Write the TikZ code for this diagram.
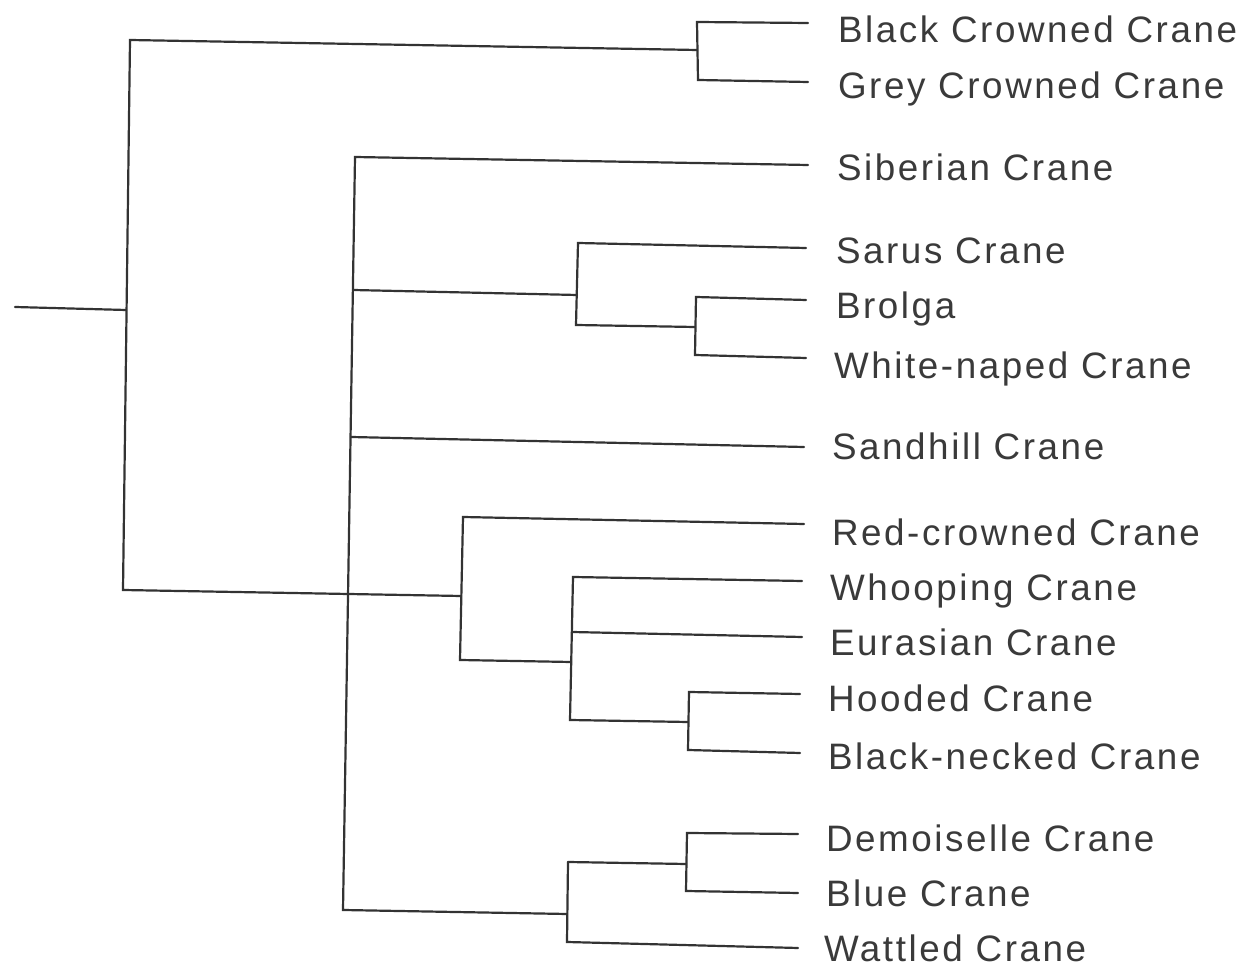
\documentclass[tikz,border=0pt]{standalone}
\usepackage{fontspec}
\newfontfamily\labfont[LetterSpace=7]{Liberation Sans}
\definecolor{inkline}{HTML}{333333}
\definecolor{inktext}{HTML}{3A3A3A}
\begin{document}
\begin{tikzpicture}[x=0.5pt,y=-0.5pt,
  branch/.style={draw=inkline,line width=1.1pt,line cap=round,line join=miter},
  lab/.style={anchor=base west,inner sep=0pt,outer sep=0pt,text=inktext,font=\labfont\fontsize{18.4}{22}\selectfont}]
\useasboundingbox (0,0) rectangle (1250,972);
% ---- coordinates ----
\coordinate (stub) at (15,307);
\coordinate (rmid) at (126,310);
\coordinate (rtop) at (130,40);
\coordinate (rbot) at (123,590);
% crowned cranes
\coordinate (cr) at (697,50);
\coordinate (crt) at (697,22);
\coordinate (crb) at (698,80);
\coordinate (eBlack) at (808,23);
\coordinate (eGrey) at (808,82);
% main polytomy
\coordinate (pt) at (355,157);
\coordinate (pb) at (343,910);
\coordinate (pSarus) at (353,290);
\coordinate (pSand) at (351,437);
\coordinate (eSib) at (808,165);
\coordinate (eSand) at (804,447);
% sarus clade
\coordinate (sa) at (577,295);
\coordinate (sat) at (578,243);
\coordinate (sab) at (576,325);
\coordinate (eSarus) at (806,248);
\coordinate (br) at (695,327);
\coordinate (brt) at (696,297);
\coordinate (brb) at (695,355);
\coordinate (eBrolga) at (806,300);
\coordinate (eWhite) at (806,358);
% red-crowned clade
\coordinate (rc) at (461,596);
\coordinate (rct) at (463,517);
\coordinate (rcb) at (460,660);
\coordinate (eRed) at (804,524);
\coordinate (wh) at (571,662);
\coordinate (wht) at (573,577);
\coordinate (whm) at (572,632);
\coordinate (whb) at (570,720);
\coordinate (eWhoop) at (802,581);
\coordinate (eEur) at (802,637);
\coordinate (ho) at (688,722);
\coordinate (hot) at (689,692);
\coordinate (hob) at (688,750);
\coordinate (eHood) at (800,694);
\coordinate (eBN) at (800,753);
% bottom clade
\coordinate (de) at (567,914);
\coordinate (det) at (568,862);
\coordinate (deb) at (567,942);
\coordinate (dm) at (686,864);
\coordinate (dmt) at (687,833);
\coordinate (dmb) at (686,891);
\coordinate (eDem) at (798,834);
\coordinate (eBlue) at (798,893);
\coordinate (eWat) at (798,948);
% ---- branches ----
\draw[branch] (stub) -- (rmid);
\draw[branch] (cr) -- (rtop) -- (rbot) -- (rc);
\draw[branch] (eBlack) -- (crt) -- (crb) -- (eGrey);
\draw[branch] (eSib) -- (pt) -- (pb) -- (de);
\draw[branch] (pSarus) -- (sa);
\draw[branch] (pSand) -- (eSand);
\draw[branch] (eSarus) -- (sat) -- (sab) -- (br);
\draw[branch] (eBrolga) -- (brt) -- (brb) -- (eWhite);
\draw[branch] (eRed) -- (rct) -- (rcb) -- (wh);
\draw[branch] (eWhoop) -- (wht) -- (whb) -- (ho);
\draw[branch] (whm) -- (eEur);
\draw[branch] (eHood) -- (hot) -- (hob) -- (eBN);
\draw[branch] (det) -- (dm);
\draw[branch] (eDem) -- (dmt) -- (dmb) -- (eBlue);
\draw[branch] (det) -- (deb) -- (eWat);
% ---- labels ----
\node[lab] (tBlack) at (838,43) {Black Crowned Crane};
\node[lab] (tGrey) at (838,99) {Grey Crowned Crane};
\node[lab] (tSib) at (837,181) {Siberian Crane};
\node[lab] (tSarus) at (836,264) {Sarus Crane};
\node[lab] (tBrolga) at (836,319) {Brolga};
\node[lab] (tWhite) at (834,379) {White-naped Crane};
\node[lab] (tSand) at (832,460) {Sandhill Crane};
\node[lab] (tRed) at (832,546) {Red-crowned Crane};
\node[lab] (tWhoop) at (830,601) {Whooping Crane};
\node[lab] (tEur) at (830,656) {Eurasian Crane};
\node[lab] (tHood) at (828,712) {Hooded Crane};
\node[lab] (tBN) at (828,770) {Black-necked Crane};
\node[lab] (tDem) at (826,852) {Demoiselle Crane};
\node[lab] (tBlue) at (826,907) {Blue Crane};
\node[lab] (tWat) at (824,962) {Wattled Crane};
\end{tikzpicture}
\end{document}
